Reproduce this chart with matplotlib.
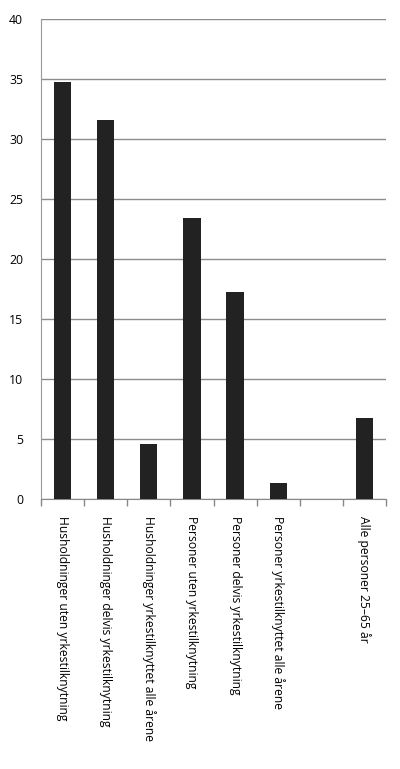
import matplotlib

matplotlib.use("Agg")
import matplotlib.pyplot as plt

plt.rcParams["font.family"] = ["Open Sans", "DejaVu Sans"]

kategorier = [
    "Husholdninger uten yrkestilknytning",
    "Husholdninger delvis yrkestilknytning",
    "Husholdninger yrkestilknyttet alle årene",
    "Personer uten yrkestilknytning",
    "Personer delvis yrkestilknytning",
    "Personer yrkestilknyttet alle årene",
    "",
    "Alle personer 25–65 år",
]
verdier = [34.8, 31.6, 4.6, 23.4, 17.3, 1.35, 0, 6.8]
y_ticks = [0, 5, 10, 15, 20, 25, 30, 35, 40]

fig = plt.figure(figsize=(4.0, 7.69), dpi=100)
ax = fig.add_axes([0.1025, 0.351, 0.8625, 0.624])

x = list(range(len(kategorier)))
ax.bar(x, verdier, width=0.4, color="#222222", zorder=3)

ax.set_xlim(-0.5, len(kategorier) - 0.5)
ax.set_ylim(0, 40)
ax.set_yticks(y_ticks)
ax.yaxis.grid(True, color="#8c8c8c", linewidth=1.0, zorder=0)

ax.set_xticks(x)
ax.set_xticklabels(kategorier, rotation=270, fontsize=8.7, va="top", ha="center")
ax.tick_params(axis="x", length=0, pad=12)
ax.set_xticks([i - 0.5 for i in range(len(kategorier) + 1)], minor=True)
ax.tick_params(axis="x", which="minor", length=5, color="#888888", width=1)
ax.tick_params(axis="y", length=0, pad=13, labelsize=8.8)

for side in ["top", "right"]:
    ax.spines[side].set_visible(False)
ax.spines["left"].set_color("#999999")
ax.spines["bottom"].set_color("#888888")

plt.savefig("out.png", dpi=100)
plt.close(fig)
